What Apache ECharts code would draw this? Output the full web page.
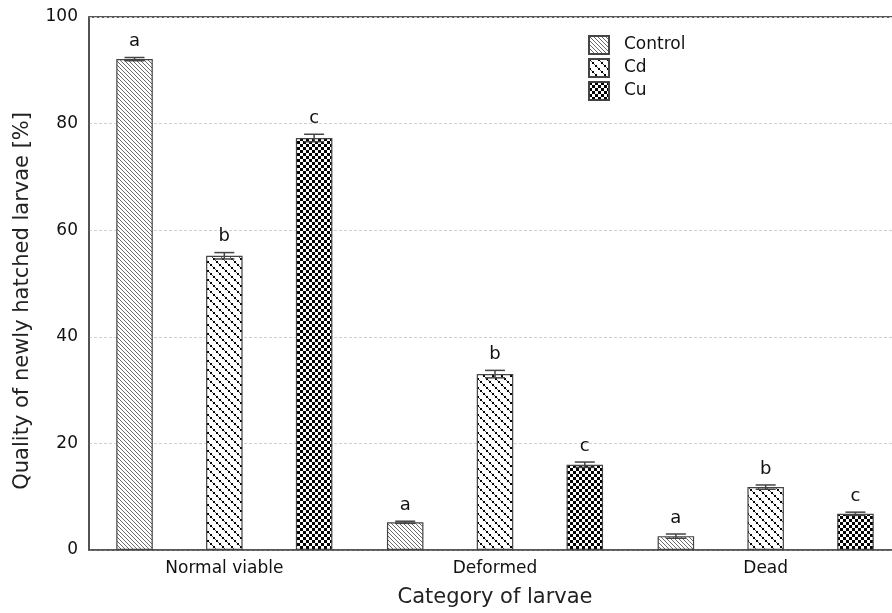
<!DOCTYPE html>
<html>
<head>
<meta charset="utf-8">
<script src="https://cdn.jsdelivr.net/npm/echarts@6/dist/echarts.min.js"></script>
<style>html,body{margin:0;padding:0;background:#fff;overflow:hidden}#c{width:912px;height:613px}</style>
</head>
<body>
<div id="c"></div>
<script>
const categories = ['Normal viable', 'Deformed', 'Dead'];
const seriesNames = ['Control', 'Cd', 'Cu'];
const controlVals = [92.1, 5.2, 2.6];
const cdVals = [55.2, 33.0, 11.8];
const cuVals = [77.3, 16.0, 6.8];
const controlErr = [0.3, 0.2, 0.4];
const cdErr = [0.6, 0.7, 0.4];
const cuErr = [0.7, 0.5, 0.3];
const letters = ['a', 'b', 'c'];
const yTicks = [0, 20, 40, 60, 80, 100];

const FONT = '"DejaVu Sans", "Liberation Sans", Arial, sans-serif';

function makePattern(kind) {
  const cv = document.createElement('canvas');
  const ctx = cv.getContext('2d');
  if (kind === 'control') {
    cv.width = 4; cv.height = 4;
    ctx.fillStyle = '#fff'; ctx.fillRect(0, 0, 4, 4);
    ctx.strokeStyle = '#6a6a6a'; ctx.lineWidth = 1;
    ctx.beginPath();
    ctx.moveTo(-1, -1); ctx.lineTo(5, 5);
    ctx.moveTo(-1, 3); ctx.lineTo(1, 5);
    ctx.moveTo(3, -1); ctx.lineTo(5, 1);
    ctx.stroke();
  } else if (kind === 'cd') {
    cv.width = 9; cv.height = 9;
    ctx.fillStyle = '#fff'; ctx.fillRect(0, 0, 9, 9);
    ctx.fillStyle = '#555';
    for (let i = 0; i < 9; i += 1) {
      ctx.fillRect(i, i, 1, 1);
    }
    ctx.fillStyle = '#000';
    for (let i = 0; i < 9; i += 3) {
      ctx.fillRect(i, i, 2, 2);
    }
  } else {
    cv.width = 6; cv.height = 6;
    ctx.fillStyle = '#fff'; ctx.fillRect(0, 0, 6, 6);
    ctx.fillStyle = '#000';
    ctx.fillRect(0, 0, 3, 3);
    ctx.fillRect(3, 3, 3, 3);
  }
  return { image: cv, repeat: 'repeat' };
}

const patterns = [makePattern('control'), makePattern('cd'), makePattern('cu')];
const vals = [controlVals, cdVals, cuVals];
const errs = [controlErr, cdErr, cuErr];

const BAR_W = 36.5;
const BAR_STEP = 89.8;

const chart = echarts.init(document.getElementById('c'));

const barSeries = seriesNames.map((name, si) => ({
  name: name,
  type: 'bar',
  data: vals[si],
  barWidth: BAR_W,
  barGap: ((BAR_STEP - BAR_W) / BAR_W * 100) + '%',
  itemStyle: { color: patterns[si], borderColor: '#444', borderWidth: 1.2 },
  z: 2
}));

const errSeries = seriesNames.map((name, si) => ({
  type: 'custom',
  name: name + '_err',
  data: vals[si].map((v, i) => [i, v, errs[si][i]]),
  z: 5,
  silent: true,
  renderItem: function (params, api) {
    const ci = api.value(0);
    const v = api.value(1);
    const e = api.value(2);
    const top = api.coord([ci, v + e]);
    const bot = api.coord([ci, v - e]);
    const x = top[0] + (si - 1) * BAR_STEP;
    const cap = 10;
    const style = { stroke: '#444', lineWidth: 1.5 };
    return {
      type: 'group',
      children: [
        { type: 'line', shape: { x1: x, y1: top[1], x2: x, y2: bot[1] }, style: style },
        { type: 'line', shape: { x1: x - cap, y1: top[1], x2: x + cap, y2: top[1] }, style: style },
        { type: 'line', shape: { x1: x - cap, y1: bot[1], x2: x + cap, y2: bot[1] }, style: style },
        {
          type: 'text',
          style: {
            x: x, y: top[1] - 7, text: letters[si],
            fill: '#111', font: '18px ' + FONT,
            textAlign: 'center', textVerticalAlign: 'bottom'
          }
        }
      ]
    };
  }
}));

chart.setOption({
  animation: false,
  backgroundColor: '#fff',
  grid: { left: 89, top: 17, width: 812, height: 535, show: true, borderColor: '#222', borderWidth: 1.6, backgroundColor: 'transparent' },
  legend: {
    data: seriesNames,
    orient: 'vertical',
    left: 583, top: 30,
    itemWidth: 20, itemHeight: 18, itemGap: 3,
    icon: 'rect',
    textStyle: { fontSize: 17, color: '#111', fontFamily: FONT, lineHeight: 19, padding: [0, 0, 0, 10] }
  },
  graphic: [{
    type: 'text',
    left: 12, top: 112,
    rotation: Math.PI / 2,
    style: {
      text: 'Quality of newly hatched larvae [%]',
      font: '21px ' + FONT,
      fill: '#222'
    }
  }],
  xAxis: {
    type: 'category',
    data: categories,
    name: 'Category of larvae',
    nameLocation: 'middle',
    nameGap: 37,
    nameTextStyle: { fontSize: 21, color: '#222', fontFamily: FONT },
    axisLine: { lineStyle: { color: '#555', width: 1.5 } },
    axisTick: { show: false },
    axisLabel: { fontSize: 17, color: '#111', margin: 10, fontFamily: FONT }
  },
  yAxis: {
    type: 'value',
    min: 0, max: 100, interval: 20,
    axisLine: { show: true, lineStyle: { color: '#555', width: 1.5 } },
    axisTick: { show: false },
    axisLabel: { fontSize: 17, color: '#111', margin: 11, fontFamily: FONT,
      formatter: function (v) { return yTicks.indexOf(v) >= 0 ? String(v) : ''; } },
    splitLine: { show: true, lineStyle: { color: '#d0d0d0', type: [3, 2], width: 1 } }
  },
  series: barSeries.concat(errSeries)
});
</script>
</body>
</html>
